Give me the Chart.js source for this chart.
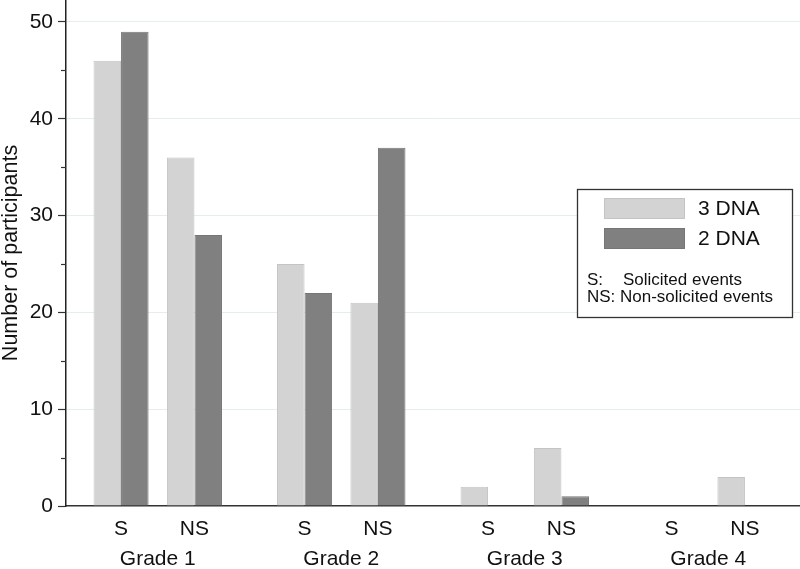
<!DOCTYPE html>
<html>
<head>
<meta charset="utf-8">
<script src="https://cdn.jsdelivr.net/npm/chart.js@4.4.1/dist/chart.umd.min.js"></script>
<style>
  html, body { margin: 0; padding: 0; background: #ffffff; }
  #wrap { width: 800px; height: 569px; position: relative; }
</style>
</head>
<body>
<div id="wrap"><canvas id="c" width="800" height="569"></canvas></div>
<script>
// ---- data ----
const grades = ['Grade 1', 'Grade 2', 'Grade 3', 'Grade 4'];
const eventTypes = ['S', 'NS'];
const seriesNames = ['3 DNA', '2 DNA'];
const dna3 = [46, 36, 25, 21, 2, 6, 0, 3];
const dna2 = [49, 28, 22, 37, 0, 1, 0, 0];
const yTickValues = [0, 5, 10, 15, 20, 25, 30, 35, 40, 45, 50];
const legendNotes = [['S:', 'Solicited events'], ['NS:', 'Non-solicited events']];

// ---- derived layout (group spacing) ----
const barX = [];
const barLabels = [];
grades.forEach((g, gi) => {
  eventTypes.forEach((t, ti) => {
    barX.push(gi * 5 + ti * 2);
    barLabels.push(t);
  });
});
const gradeX = grades.map((g, gi) => gi * 5 + 1);

const FONT = "'Liberation Sans', Arial, Helvetica, sans-serif";
const LIGHT = '#d3d3d3', LIGHT_B = '#c4c4c4';
const DARK = '#808080', DARK_B = '#767676';

const minorTicks = {
  id: 'minorTicks',
  afterDraw(chart) {
    const y = chart.scales.y;
    const ctx = chart.ctx;
    ctx.save();
    ctx.strokeStyle = '#333';
    ctx.lineWidth = 1.2;
    yTickValues.filter(v => v % 10 !== 0).forEach(v => {
      const py = Math.round(y.getPixelForValue(v)) + 0.5;
      ctx.beginPath();
      ctx.moveTo(y.right - 5, py);
      ctx.lineTo(y.right, py);
      ctx.stroke();
    });
    ctx.restore();
  }
};

const boxLegend = {
  id: 'boxLegend',
  afterDraw(chart) {
    const ctx = chart.ctx;
    const ds = chart.data.datasets;
    ctx.save();
    ctx.fillStyle = '#fff';
    ctx.fillRect(577, 189, 215, 128);
    ctx.strokeStyle = '#333';
    ctx.lineWidth = 1.3;
    ctx.strokeRect(577.5, 189.5, 215, 128);
    ds.forEach((d, i) => {
      const top = 198 + i * 30;
      ctx.fillStyle = d.backgroundColor;
      ctx.fillRect(604, top, 81, 21);
      ctx.strokeStyle = d.borderColor;
      ctx.lineWidth = 1;
      ctx.strokeRect(604.5, top + 0.5, 80, 20);
      ctx.fillStyle = '#111';
      ctx.font = '21px ' + FONT;
      ctx.textBaseline = 'middle';
      ctx.textAlign = 'left';
      ctx.fillText(d.label, 698, top + 11);
    });
    ctx.font = '17px ' + FONT;
    ctx.fillStyle = '#111';
    ctx.textBaseline = 'middle';
    legendNotes.forEach((n, i) => {
      const yy = 280 + i * 17;
      ctx.fillText(n[0], 587, yy);
      ctx.fillText(n[1], i === 0 ? 623 : 620, yy);
    });
    ctx.restore();
  }
};

new Chart(document.getElementById('c'), {
  type: 'bar',
  data: {
    datasets: [
      {
        label: seriesNames[0],
        data: dna3.map((v, i) => ({ x: barX[i], y: v })),
        backgroundColor: LIGHT, borderColor: LIGHT_B, borderWidth: 1,
        categoryPercentage: 0.75, barPercentage: 1.0
      },
      {
        label: seriesNames[1],
        data: dna2.map((v, i) => ({ x: barX[i], y: v })),
        backgroundColor: DARK, borderColor: DARK_B, borderWidth: 1,
        categoryPercentage: 0.75, barPercentage: 1.0
      }
    ]
  },
  options: {
    responsive: false,
    animation: false,
    layout: { padding: 0 },
    plugins: { legend: { display: false }, tooltip: { enabled: false } },
    scales: {
      x: {
        type: 'linear', position: 'bottom', weight: 0, offset: false,
        min: -1.5, max: 18.5,
        afterBuildTicks: s => { s.ticks = barX.map(v => ({ value: v })); },
        afterFit: s => { s.height = 35; s.paddingLeft = 0; s.paddingRight = 0; },
        ticks: {
          autoSkip: false, maxRotation: 0, padding: 11,
          color: '#111', font: { family: FONT, size: 21 },
          callback: (v, i) => barLabels[i]
        },
        grid: { display: false, drawTicks: false, offset: false },
        border: { display: true, color: '#333', width: 1.5 }
      },
      x2: {
        type: 'linear', position: 'bottom', weight: 1, offset: false,
        min: -1.5, max: 18.5,
        afterBuildTicks: s => { s.ticks = gradeX.map(v => ({ value: v })); },
        afterFit: s => { s.height = 28; s.paddingLeft = 0; s.paddingRight = 0; },
        ticks: {
          autoSkip: false, maxRotation: 0, padding: 6,
          color: '#111', font: { family: FONT, size: 21 },
          callback: (v, i) => grades[i]
        },
        grid: { display: false, drawTicks: false, offset: false },
        border: { display: false }
      },
      y: {
        type: 'linear', position: 'left',
        min: 0, max: 52.27,
        afterBuildTicks: s => { s.ticks = yTickValues.map(v => ({ value: v })); },
        afterFit: s => { s.width = 66; s.paddingTop = 0; s.paddingBottom = 0; },
        ticks: {
          padding: 5, color: '#111', font: { family: FONT, size: 21 },
          callback: v => (v % 10 === 0 ? String(v) : '')
        },
        grid: {
          tickLength: 8,
          color: c => (c.tick && c.tick.value % 10 === 0 && c.tick.value !== 0) ? '#e4eeee' : 'rgba(0,0,0,0)',
          tickColor: c => (c.tick && c.tick.value % 10 === 0) ? '#333' : 'rgba(0,0,0,0)',
          tickWidth: 1.2
        },
        border: { display: true, color: '#222', width: 1.5 },
        title: {
          display: true, text: 'Number of participants', color: '#111',
          font: { family: FONT, size: 21.5, lineHeight: 1.0 }, padding: { top: 0, bottom: 0 }
        }
      }
    }
  },
  plugins: [minorTicks, boxLegend]
});
</script>
</body>
</html>
